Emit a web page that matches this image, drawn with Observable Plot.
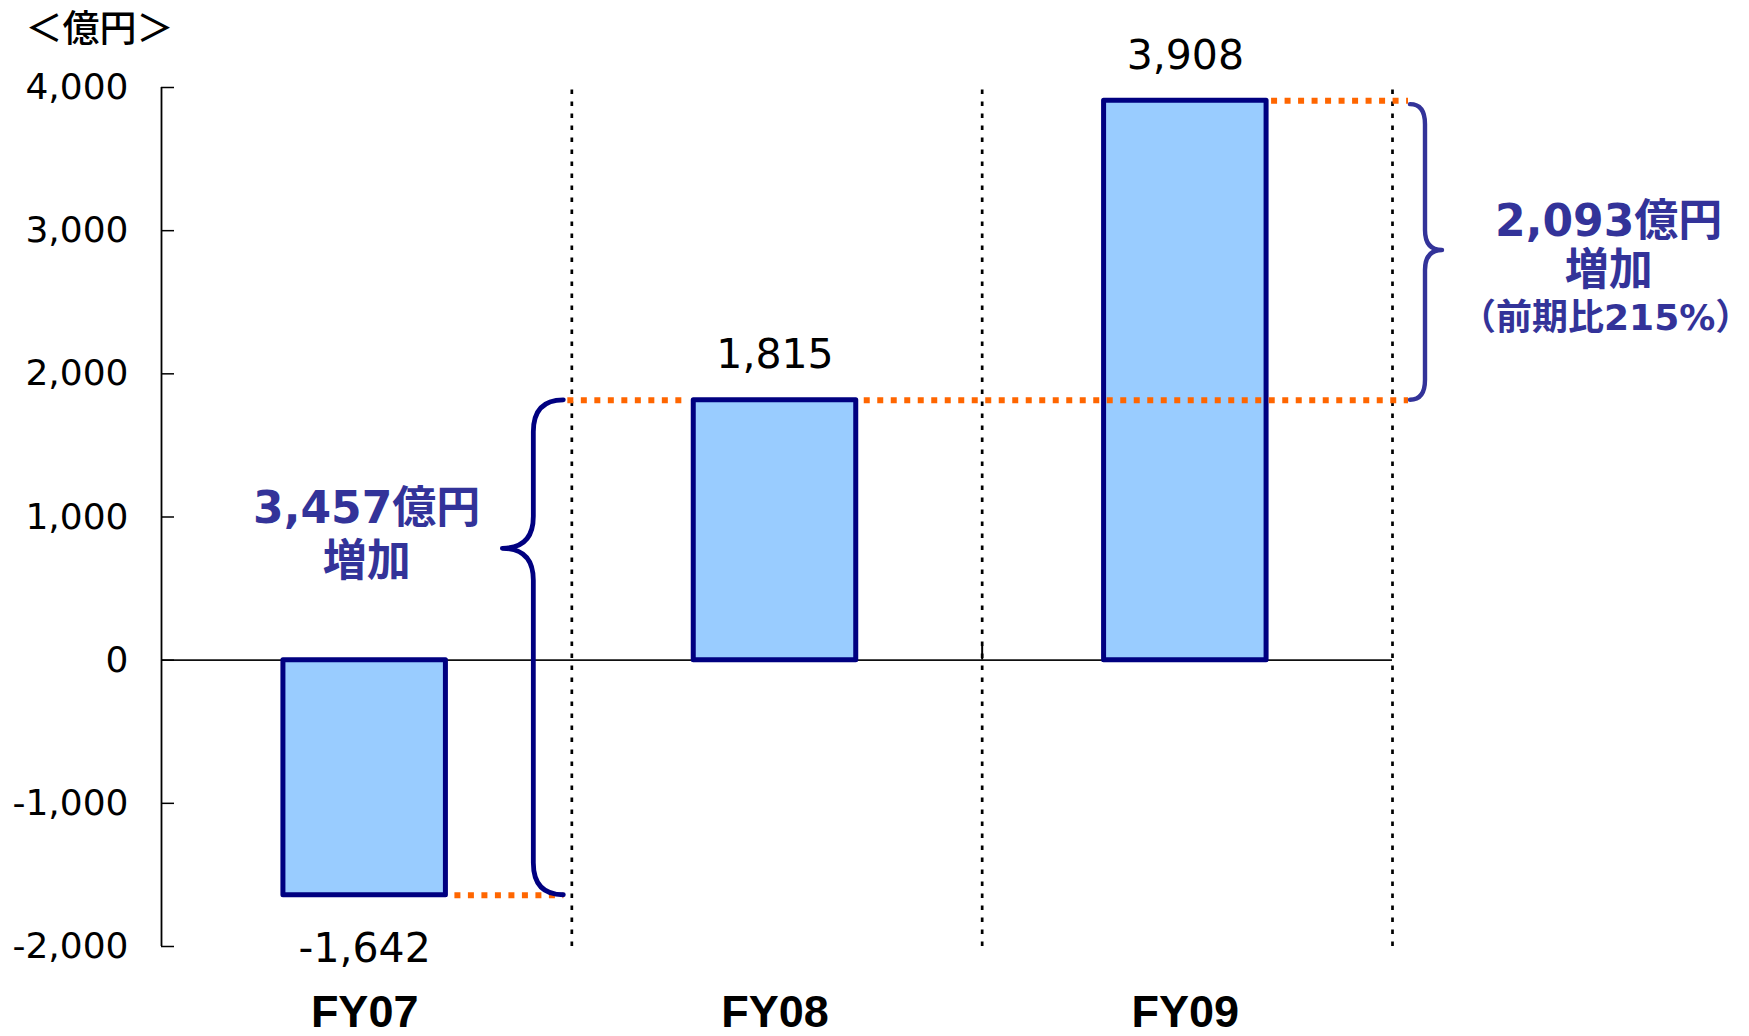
<!DOCTYPE html>
<html><head><meta charset="utf-8">
<script src="https://cdn.jsdelivr.net/npm/d3@7"></script>
<script src="https://cdn.jsdelivr.net/npm/@observablehq/plot@0.6"></script>
<style>
html,body{margin:0;padding:0;background:#fff;}
#chart{width:1749px;height:1036px;}
#chart svg{display:block;}
</style></head><body><div id="chart"></div>
<script>
// ---- data ----
const categories = ["FY07", "FY08", "FY09"];
const values = [-1642, 1815, 3908];
const yTicks = [-2000, -1000, 0, 1000, 2000, 3000, 4000];
const yDomain = [-2000, 4000];
const unitLabel = "＜億円＞";
const unitSuffix = "億円";
const increaseWord = "増加";
const ratioPrefix = "前期比";

// ---- derived ----
const fmt = d3.formatLocale({decimal: ".", thousands: ",", grouping: [3], currency: ["", ""], minus: "-"}).format(",");
const rows = categories.map((c, i) => ({cat: c, i, v: values[i]}));
const diff1 = values[1] - values[0];
const diff2 = values[2] - values[1];
const ratio = Math.round(values[2] / values[1] * 100);

// ---- layout ----
const W = 1749, H = 1036, mL = 161, mR = 357, mT = 87, mB = 90;
const n = categories.length;
const step = (W - mL - mR) / n;
const px = p => p / step;          // pixels -> index units
const half = 0.198;
const shift = px(-2);
const seps = d3.range(n).map(i => i + 0.5);
const x0 = -0.5, xEnd = n - 0.5;

const navy = "#000080", annot = "#333399", orange = "#FF6600";
const latin = "'DejaVu Sans', 'Noto Sans CJK JP', sans-serif";

const orangeSegs = [
  {x1: 0 + shift + half + px(9), x2: 0.5 - px(8), y: values[0]},
  {x1: 0.5 - px(4), x2: 1 + shift - half - px(7), y: values[1]},
  {x1: 1 + shift + half + px(8), x2: xEnd + px(16), y: values[1]},
  {x1: 2 + shift + half + px(5), x2: xEnd + px(16), y: values[2]}
];

const leftTipFrac = 0.30, rightTipFrac = 0.5;
const leftTipV = values[1] - leftTipFrac * (values[1] - values[0]);
const rightTipV = values[2] - rightTipFrac * (values[2] - values[1]);

const plot = Plot.plot({
  width: W, height: H,
  marginLeft: mL, marginRight: mR, marginTop: mT, marginBottom: mB,
  style: {fontFamily: latin, background: "white", color: "black", overflow: "visible"},
  x: {domain: [x0, xEnd], axis: null},
  y: {domain: yDomain, axis: null},
  marks: [
    Plot.ruleX(seps, {x: d => d, y1: yDomain[0], y2: yDomain[1], stroke: "black", strokeWidth: 2.7, strokeDasharray: "4.5,7.5"}),
    Plot.ruleX([seps[1]], {x: d => d, y1: 0, y2: 100, stroke: "black", strokeWidth: 2}),
    Plot.ruleY([0], {y: d => d, x1: x0, x2: xEnd, stroke: "#111", strokeWidth: 1.6}),
    Plot.ruleX([x0], {x: d => d, y1: yDomain[0], y2: yDomain[1], stroke: "black", strokeWidth: 1.8}),
    Plot.ruleY(yTicks, {y: d => d, x1: x0, x2: x0 + px(13), stroke: "black", strokeWidth: 1.5}),
    Plot.axisY(yTicks, {anchor: "left", tickSize: 0, tickPadding: 33, tickFormat: fmt, fontSize: 36, fill: "black"}),
    Plot.rect(rows, {x1: d => d.i + shift - half, x2: d => d.i + shift + half, y1: 0, y2: "v",
      fill: "#99CCFF", stroke: navy, strokeWidth: 5, strokeLinejoin: "round"}),
    Plot.ruleY(orangeSegs, {x1: "x1", x2: "x2", y: "y", stroke: orange, strokeWidth: 6, strokeDasharray: "6,7.5"}),
    Plot.text(rows.filter(d => d.v >= 0), {x: d => d.i + shift, y: "v", text: d => fmt(d.v), dy: -45, fontSize: 41, fill: "black"}),
    Plot.text(rows.filter(d => d.v < 0), {x: d => d.i + shift, y: "v", text: d => fmt(d.v), dy: 54, fontSize: 41, fill: "black"}),
    Plot.text(rows, {x: d => d.i + shift, y: yDomain[0], text: "cat", dy: 66, fontSize: 45, fontWeight: "bold",
      fontFamily: "'Liberation Sans', Arial, sans-serif", fill: "black"}),
    Plot.text([`${fmt(diff1)}${unitSuffix}\n${increaseWord}`], {x: 0, y: leftTipV, text: d => d, dy: -16,
      fontSize: 44, fontWeight: "bold", fill: annot, lineHeight: 1.2}),
    Plot.text([`${fmt(diff2)}${unitSuffix}\n${increaseWord}`], {x: n, y: rightTipV, text: d => d, dx: 11, dy: -6,
      fontSize: 44, fontWeight: "bold", fill: annot, lineHeight: 1.11}),
    Plot.text([`（${ratioPrefix}${ratio}%）`], {x: n, y: rightTipV, text: d => d, dx: 8, dy: 68,
      fontSize: 36, fontWeight: "bold", fill: annot}),
    Plot.text([unitLabel], {frameAnchor: "top-left", text: d => d, dx: -136, dy: -57, textAnchor: "start",
      lineAnchor: "middle", fontSize: 37, fontWeight: 500, fontFamily: "'Noto Sans CJK JP', sans-serif", fill: "black"})
  ]
});

document.getElementById("chart").appendChild(plot);

// braces drawn with the plot's own scales
const sx = plot.scale("x"), sy = plot.scale("y");
const X = v => sx.apply(v), Y = v => sy.apply(v);
function bracePath(xe, xs, xt, yTop, yTip, yBot, r) {
  return `M${xe},${yTop} Q${xs},${yTop} ${xs},${yTop + r} L${xs},${yTip - r} Q${xs},${yTip} ${xt},${yTip}` +
         ` Q${xs},${yTip} ${xs},${yTip + r} L${xs},${yBot - r} Q${xs},${yBot} ${xe},${yBot}`;
}
const svg = d3.select(plot.tagName.toLowerCase() === "svg" ? plot : plot.querySelector("svg"));
const g = svg.append("g").attr("fill", "none").attr("stroke-linecap", "round").attr("stroke-linejoin", "round");
{
  const b = X(0.5);
  g.append("path").attr("stroke", navy).attr("stroke-width", 4.8)
    .attr("d", bracePath(b - 8, b - 38, b - 69, Y(values[1]), Y(leftTipV), Y(values[0]), 32));
}
{
  const b = X(xEnd);
  g.append("path").attr("stroke", annot).attr("stroke-width", 4.4)
    .attr("d", bracePath(b + 18, b + 33, b + 50, Y(values[2]) + 4, Y(rightTipV), Y(values[1]), 20));
}
</script>
</body></html>
